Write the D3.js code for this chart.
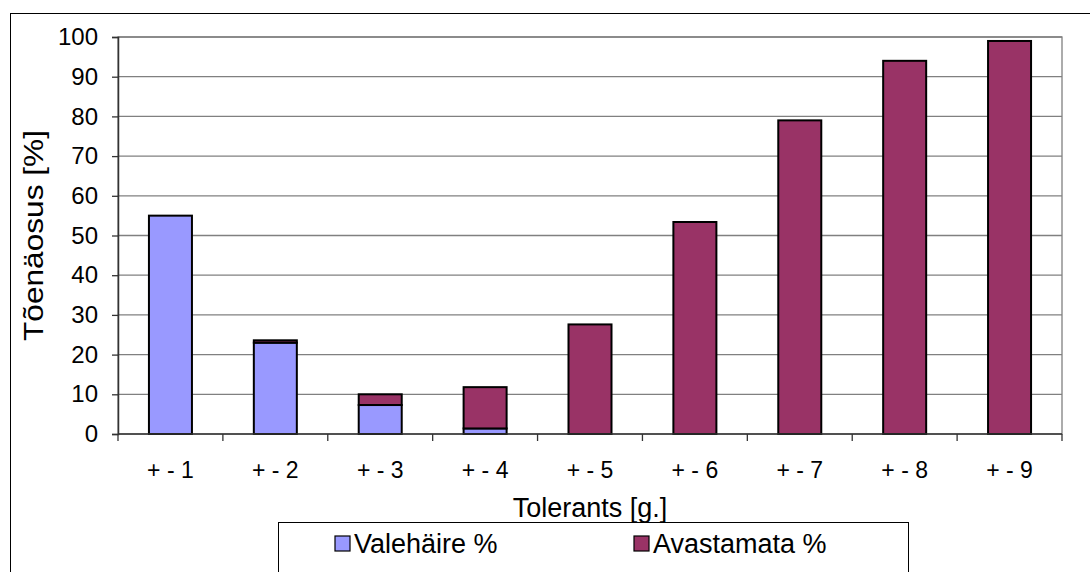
<!DOCTYPE html>
<html>
<head>
<meta charset="utf-8">
<script src="https://cdn.jsdelivr.net/npm/d3@7"></script>
<style>
  html, body { margin: 0; padding: 0; background: #fff; }
  svg { display: block; font-family: Arial, "Liberation Sans", sans-serif; }
</style>
</head>
<body>
<svg id="chart" width="1090" height="572"></svg>
<script>
// Tolerance classes on the x axis
const categories = ["+ - 1", "+ - 2", "+ - 3", "+ - 4", "+ - 5", "+ - 6", "+ - 7", "+ - 8", "+ - 9"];
// False alarm share, %
const valehaire = [55, 23, 7.3, 1.4, 0, 0, 0, 0, 0];
// Undetected share, %
const avastamata = [0, 0.6, 2.7, 10.4, 27.6, 53.4, 79, 94, 99];
const yTicks = [0, 10, 20, 30, 40, 50, 60, 70, 80, 90, 100];
const seriesNames = ["Valehäire %", "Avastamata %"];
const seriesColors = ["#9999FF", "#993366"];

const svg = d3.select("#chart");
const plot = { left: 118, right: 1062, top: 37, bottom: 434 };
const fontFamily = "Arial, 'Liberation Sans', sans-serif";

// Outer chart frame
svg.append("rect")
  .attr("x", 10.5).attr("y", 13.5)
  .attr("width", 1200).attr("height", 700)
  .attr("fill", "#fff").attr("stroke", "#000").attr("stroke-width", 1);

const x = d3.scaleBand()
  .domain(categories)
  .range([plot.left, plot.right])
  .paddingInner(0.59).paddingOuter(0.295);

const xCat = d3.scaleBand()
  .domain(categories)
  .range([plot.left, plot.right]);

const y = d3.scaleLinear().domain([0, 100]).range([plot.bottom, plot.top]);

// Plot area border
svg.append("rect")
  .attr("x", plot.left).attr("y", plot.top)
  .attr("width", plot.right - plot.left).attr("height", plot.bottom - plot.top)
  .attr("fill", "none").attr("stroke", "#808080").attr("stroke-width", 1.3);

// Horizontal gridlines
svg.append("g")
  .selectAll("line")
  .data(yTicks.filter(d => d > 0))
  .join("line")
  .attr("x1", plot.left).attr("x2", plot.right)
  .attr("y1", d => y(d)).attr("y2", d => y(d))
  .attr("stroke", "#808080").attr("stroke-width", 1.3);

// Stacked bars
const table = categories.map((c, i) => ({ cat: c, v: valehaire[i], a: avastamata[i] }));
const stacked = d3.stack().keys(["v", "a"])(table);

svg.append("g")
  .selectAll("g")
  .data(stacked)
  .join("g")
  .attr("fill", (d, i) => seriesColors[i])
  .selectAll("rect")
  .data(d => d.filter(s => s[1] - s[0] > 0))
  .join("rect")
  .attr("x", d => x(d.data.cat))
  .attr("width", x.bandwidth())
  .attr("y", d => y(d[1]))
  .attr("height", d => y(d[0]) - y(d[1]))
  .attr("stroke", "#000").attr("stroke-width", 2);

// Y axis
const yAxis = d3.axisLeft(y).tickValues(yTicks).tickSize(6).tickPadding(14);
const gy = svg.append("g").attr("transform", `translate(${plot.left},0)`).call(yAxis);
gy.select(".domain").attr("stroke", "#333").attr("stroke-width", 1.5);
gy.selectAll(".tick line").attr("stroke", "#333").attr("stroke-width", 1.3);
gy.selectAll(".tick text").attr("font-size", 24).attr("fill", "#000")
  .attr("font-family", fontFamily);

// X axis: ticks on category boundaries, labels at category centres
const gx = svg.append("g").attr("transform", `translate(0,${plot.bottom})`);
gx.append("line")
  .attr("x1", plot.left).attr("x2", plot.right)
  .attr("stroke", "#333").attr("stroke-width", 1.5);
gx.selectAll("line.tk")
  .data(categories.concat(["end"]))
  .join("line")
  .attr("class", "tk")
  .attr("x1", (d, i) => i < categories.length ? xCat(d) : plot.right)
  .attr("x2", (d, i) => i < categories.length ? xCat(d) : plot.right)
  .attr("y1", 0).attr("y2", 7)
  .attr("stroke", "#333").attr("stroke-width", 1.3);
gx.selectAll("text")
  .data(categories)
  .join("text")
  .attr("x", d => xCat(d) + xCat.bandwidth() / 2)
  .attr("y", 44)
  .attr("text-anchor", "middle")
  .attr("font-size", 23)
  .text(d => d);

// Axis titles
svg.append("text")
  .attr("x", (plot.left + plot.right) / 2).attr("y", 517)
  .attr("text-anchor", "middle").attr("font-size", 27)
  .text("Tolerants [g.]");

// Vertical title, slightly elongated along its reading direction
svg.append("text")
  .attr("transform", `translate(43,${(plot.top + plot.bottom) / 2}) scale(1,1.13) rotate(-90)`)
  .attr("text-anchor", "middle").attr("font-size", 28)
  .text("Tõenäosus [%]");

// Legend
const legend = svg.append("g");
legend.append("rect")
  .attr("x", 278.5).attr("y", 522.5)
  .attr("width", 630).attr("height", 80)
  .attr("fill", "#fff").attr("stroke", "#000").attr("stroke-width", 1);
const legendX = [335, 634];
seriesNames.forEach((name, i) => {
  legend.append("rect")
    .attr("x", legendX[i]).attr("y", 536)
    .attr("width", 15).attr("height", 15)
    .attr("fill", seriesColors[i]).attr("stroke", "#000").attr("stroke-width", 1.2);
  legend.append("text")
    .attr("x", legendX[i] + 19).attr("y", 553)
    .attr("font-size", 27)
    .text(name);
});
</script>
</body>
</html>
